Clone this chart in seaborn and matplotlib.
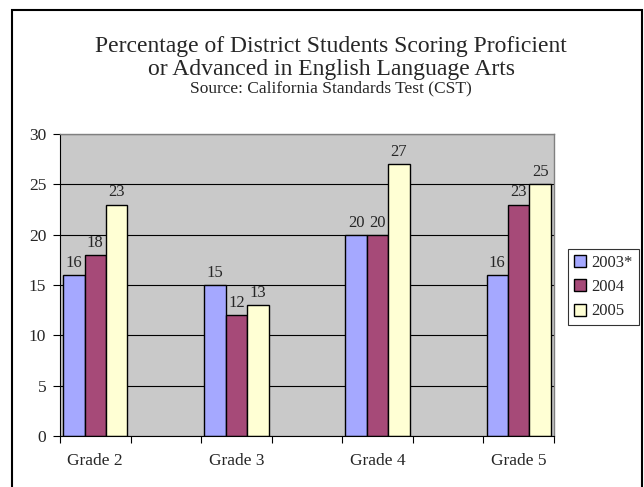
import matplotlib
matplotlib.use("Agg")
import matplotlib.pyplot as plt
import seaborn as sns
import pandas as pd
from matplotlib.patches import Rectangle

grades = ["Grade 2", "Grade 3", "Grade 4", "Grade 5"]
years = ["2003*", "2004", "2005"]
scores_2003 = [16, 15, 20, 16]
scores_2004 = [18, 12, 20, 23]
scores_2005 = [23, 13, 27, 25]
colors = ["#a5a8ff", "#a64a78", "#ffffd4"]

rows = []
for yr, vals in zip(years, [scores_2003, scores_2004, scores_2005]):
    for g, v in zip(grades, vals):
        rows.append({"grade": g, "year": yr, "score": v})
df = pd.DataFrame(rows)

# the source chart has empty category slots between the grades
slots = ["Grade 2", "gap1", "Grade 3", "gap2", "Grade 4", "gap3", "Grade 5"]

sns.set_style("white")
plt.rcParams["font.family"] = ["Liberation Serif", "DejaVu Serif"]

fig = plt.figure(figsize=(6.44, 4.87), dpi=100)
ax = fig.add_axes([0.0932, 0.1047, 0.767, 0.620])

sns.barplot(data=df, x="grade", y="score", hue="year", order=slots,
            palette=colors, width=0.91, edgecolor="black", linewidth=1.0,
            ax=ax, saturation=1, legend=True)

for cont in ax.containers:
    ax.bar_label(cont, padding=3, fontsize=12)

ax.set_facecolor("#c9c9c9")
ax.set_xlim(-0.5, 6.5)
ax.set_ylim(0, 30)
ax.set_yticks(range(0, 31, 5))
ax.yaxis.grid(True, color="black", linewidth=0.8)
ax.set_axisbelow(True)
ax.set_xlabel("")
ax.set_ylabel("")

ax.set_xticks([i - 0.5 for i in range(8)], minor=True)
ax.set_xticks([0, 2, 4, 6])
ax.set_xticklabels(grades)
ax.tick_params(axis="x", which="major", length=0, labelsize=12.5, pad=12)
ax.tick_params(axis="x", which="minor", length=5, width=0.8, color="black",
               direction="out", bottom=True)
ax.tick_params(axis="y", length=5, width=0.8, color="black", direction="out",
               left=True, labelsize=12.5, pad=5)

for side in ["top", "right"]:
    ax.spines[side].set_color("#808080")
    ax.spines[side].set_linewidth(1.0)
ax.spines["left"].set_color("black")
ax.spines["bottom"].set_color("black")

leg = ax.legend(loc="center left", bbox_to_anchor=(1.028, 0.493), frameon=True,
                fancybox=False, edgecolor="black", fontsize=12,
                handlelength=0.72, handleheight=0.72, handletextpad=0.35,
                borderpad=0.35, labelspacing=0.5, borderaxespad=0)
leg.get_frame().set_linewidth(0.8)
for h in leg.legend_handles:
    h.set_edgecolor("black")

fig.text(0.514, 0.905, "Percentage of District Students Scoring Proficient",
         ha="center", va="center", fontsize=17)
fig.text(0.514, 0.858, "or Advanced in English Language Arts",
         ha="center", va="center", fontsize=17)
fig.text(0.514, 0.818, "Source: California Standards Test (CST)",
         ha="center", va="center", fontsize=12.5)

fig.patches.append(Rectangle((12 / 644, -0.05), 630 / 644, 1.05 - 10 / 487,
                             transform=fig.transFigure, fill=False,
                             edgecolor="black", linewidth=1.5))

fig.savefig("out.png", dpi=100)
